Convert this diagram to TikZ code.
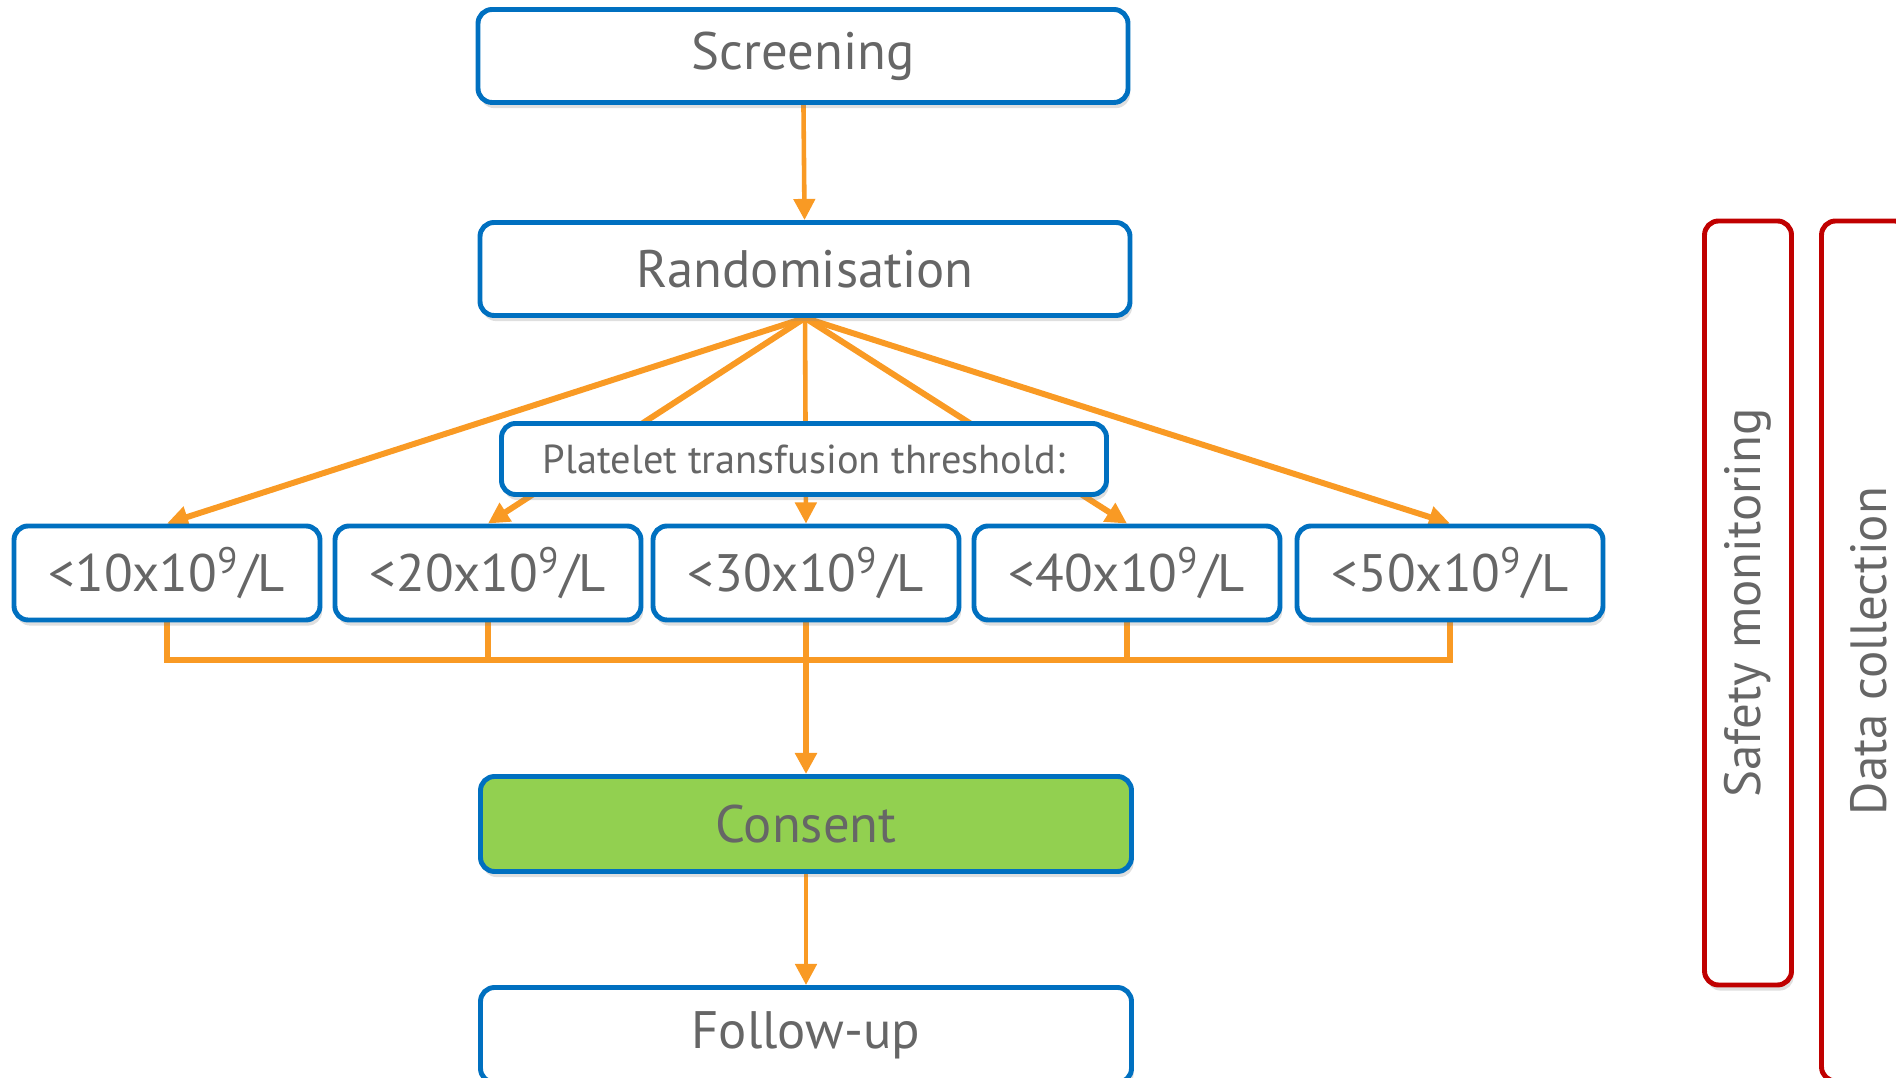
\documentclass[tikz,border=0pt]{standalone}
\usepackage{fontspec}
\setmainfont{PT Sans}
\usetikzlibrary{arrows.meta,shadows}
\pgfdeclarelayer{background}
\pgfsetlayers{background,main}

\definecolor{boxblue}{HTML}{0070C0}
\definecolor{linkorange}{HTML}{F99A24}
\definecolor{consentgreen}{HTML}{92D050}
\definecolor{textgrey}{HTML}{666666}
\definecolor{sidered}{HTML}{C00000}

\tikzset{
  stage/.style={draw=boxblue,line width=1.4pt,rounded corners=4pt,fill=white,
    text=textgrey,font=\fontsize{15}{18}\selectfont,inner sep=0pt,
    drop shadow={opacity=.25,shadow xshift=.6pt,shadow yshift=-1.6pt}},
  level/.style={stage,minimum width=3.06cm,minimum height=.94cm},
  side/.style={draw=sidered,line width=1.4pt,rounded corners=4pt,fill=white,
    text=textgrey,font=\fontsize{14.5}{17}\selectfont,inner sep=0pt,
    minimum width=.87cm,
    drop shadow={opacity=.25,shadow xshift=.6pt,shadow yshift=-1.6pt}},
  link/.style={draw=linkorange,line width=1.3pt},
  flow/.style={link,-{Triangle[width=6pt,length=6pt]}},
  heavy/.style={line width=1.7pt}
}

\begin{document}
\begin{tikzpicture}
  \useasboundingbox (0,0) rectangle (18.96,-10.78);

  % main stages
  \node[stage,minimum width=6.5cm,minimum height=.93cm] (screen) at (8.03,-.56) {Screening};
  \node[stage,minimum width=6.5cm,minimum height=.93cm] (rand) at (8.05,-2.69) {Randomisation};
  \node[stage,minimum width=6.05cm,minimum height=.71cm,font=\fontsize{11.5}{14}\selectfont]
    (plat) at (8.04,-4.59) {Platelet transfusion threshold:};

  % the five threshold arms
  \node[level] (t1) at (1.67,-5.73) {<10x10$^{\mathrm{9}}$/L};
  \node[level] (t2) at (4.88,-5.73) {<20x10$^{\mathrm{9}}$/L};
  \node[level] (t3) at (8.06,-5.73) {<30x10$^{\mathrm{9}}$/L};
  \node[level] (t4) at (11.27,-5.73) {<40x10$^{\mathrm{9}}$/L};
  \node[level] (t5) at (14.50,-5.73) {<50x10$^{\mathrm{9}}$/L};

  \node[stage,fill=consentgreen,minimum width=6.51cm,minimum height=.95cm] (consent) at (8.06,-8.24) {Consent};
  \node[stage,minimum width=6.51cm,minimum height=.95cm] (follow) at (8.06,-10.35) {Follow-up};

  % running alongside
  \node[side,minimum height=7.64cm] (safety) at (17.48,-6.03) {};
  \node[rotate=90,text=textgrey,font=\fontsize{14.5}{17}\selectfont] (safetytxt) at (safety.center) {Safety monitoring};
  \node[side,minimum height=8.6cm] (data) at (18.65,-6.51) {};
  \node[rotate=90,text=textgrey,font=\fontsize{14.5}{17}\selectfont] (datatxt) at (18.69,-6.51) {Data collection};

  % connectors
  \coordinate (bus) at (8.06,-6.60);
  \begin{pgfonlayer}{background}
    \draw[flow] (screen) -- (rand);
    \draw[flow,heavy] (rand.south) -- (t1.north);
    \draw[flow,heavy] (rand.south) -- (t2.north);
    \draw[flow] (rand.south) -- (t3.north);
    \draw[flow,heavy] (rand.south) -- (t4.north);
    \draw[flow,heavy] (rand.south) -- (t5.north);
    \draw[link,heavy] (t1.south) -- (t1.south |- bus) -- (t5.south |- bus) -- (t5.south);
    \foreach \t in {t2,t4}
      \draw[link,heavy] (\t.south) -- (\t.south |- bus);
    \draw[flow,heavy] (t3.south) -- (consent.north);
    \draw[flow] (consent) -- (follow);
  \end{pgfonlayer}
\end{tikzpicture}
\end{document}
